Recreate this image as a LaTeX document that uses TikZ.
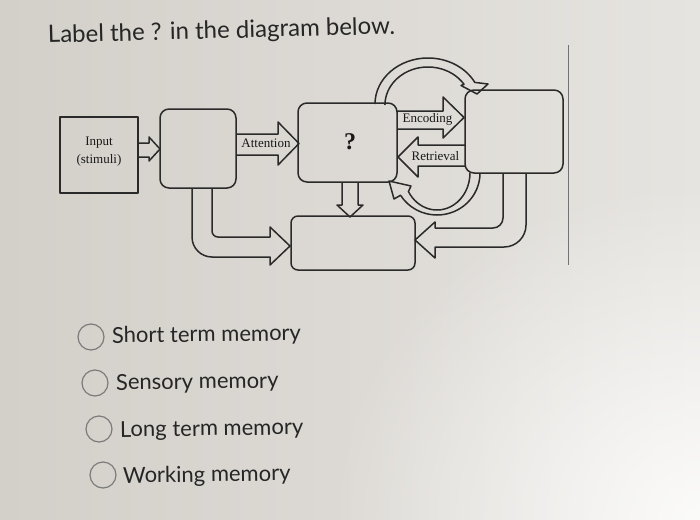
\documentclass[tikz,border=0pt]{standalone}
\usepackage{fontspec}
\setmainfont{Liberation Serif}
\newfontfamily\lato{Lato}
\usetikzlibrary{calc,fadings}
\definecolor{ink}{HTML}{2A2A2A}
\definecolor{bgl}{HTML}{D3CFC9}
\definecolor{bgr}{HTML}{E6E4E0}
\definecolor{radio}{HTML}{7C7C7C}
\tikzfading[name=glow, inner color=transparent!0, outer color=transparent!100]
\tikzset{
  ink/.style={draw=ink, line width=1.5pt, line join=round},
  sqbox/.style={ink, rectangle, inner sep=0pt},
  rbox/.style={ink, rectangle, rounded corners=9pt, inner sep=0pt},
  fat/.style={ink},
  lbl/.style={inner sep=0pt, font=\fontsize{13}{15}\selectfont, text=black!90},
  question/.style={inner sep=0pt, anchor=base west, font=\lato\fontsize{24}{28}\selectfont, text=black!85},
  option/.style={inner sep=0pt, anchor=base west, font=\lato\fontsize{22}{26}\selectfont, text=black!85},
  radiobtn/.style={circle, draw=radio, line width=1.2pt, minimum size=26pt, inner sep=0pt},
}
\begin{document}
\begin{tikzpicture}[x=1pt,y=-1pt]
\useasboundingbox (0,0) rectangle (700,519);
% background
\fill[left color=bgl, right color=bgr] (0,0) rectangle (700,519);
\fill[white, opacity=0.85, path fading=glow] (330,180) rectangle (1070,860);
% screen edge line
\draw[black!55, line width=0.9pt] (568,45) -- (568,265);

% title
\node[question, rotate=1.5] (q) at (48,43) {Label the ? in the diagram below.};

% boxes
\node[sqbox, minimum width=78pt, minimum height=76pt] (input) at (99,155) {};
\node[rbox, minimum width=76pt, minimum height=79pt] (sens) at (198,148.5) {};
\node[rbox, minimum width=99pt, minimum height=79pt] (stm) at (347.5,142.5) {};
\node[rbox, minimum width=98pt, minimum height=83pt] (ltm) at (514,131.5) {};
\node[rbox, rounded corners=7pt, minimum width=124pt, minimum height=54pt] (resp) at (353,243) {};

% box texts
\node[inner sep=0pt, font=\fontsize{13}{18}\selectfont, align=center, text=black!90] (intext) at (99,152) {Input\\(stimuli)};
\node[inner sep=0pt, font=\bfseries\fontsize{24}{24}\selectfont, text=black!90] (qm) at (350,141.5) {?};

% input -> sensory
\draw[fat] (138,143) -- (149,143) -- (149,137) -- (160,149) -- (149,161) -- (149,157) -- (138,157);
% attention
\draw[fat] (236,134) -- (278,134) -- (278,122) -- (299,143.5) -- (278,165) -- (278,155) -- (236,155);
\node[lbl] (att) at (266,143) {Attention};
% encoding
\draw[fat] (397,111) -- (443,111) -- (443,97) -- (464,117.5) -- (443,138) -- (443,129) -- (397,129);
\node[lbl] (enc) at (427.5,119) {Encoding};
% retrieval
\draw[fat] (465,145) -- (418,145) -- (418,137) -- (398,157) -- (418,177) -- (418,166) -- (465,166);
\node[lbl] (ret) at (435.5,156.5) {Retrieval};
% down arrow
\draw[fat] (342,182) -- (342,205) -- (337,205) -- (350,217) -- (363,205) -- (358,205) -- (358,182);
% bent arrow sensory -> bottom box
\draw[fat] (192,188) [rounded corners=20pt] -- (192,257) [sharp corners] -- (270,257) -- (270,265) -- (290,246) -- (270,227) -- (270,237) [rounded corners=6pt] -- (212,237) [sharp corners] -- (212,188);
% bent arrow ltm -> bottom box
\draw[fat] (503,173) [rounded corners=10pt] -- (503,228) [sharp corners] -- (435,228) -- (435,222) -- (415,240) -- (435,258) -- (435,247) [rounded corners=22pt] -- (526,247) [sharp corners] -- (526,173);
% top curved arrow
\draw[fat] (375,104) arc[start angle=180, end angle=28, x radius=53pt, y radius=46pt]
  -- (488,84) -- (477,94) -- (461,85.5) -- (464,84.3)
  arc[start angle=33, end angle=180, x radius=43pt, y radius=38pt];
% bottom curved arrow
\draw[fat] (480,173) arc[start angle=0, end angle=-148, x radius=43pt, y radius=42pt]
  -- (394,199) -- (389,181) -- (411,186) -- (408.4,191.5)
  arc[start angle=-150, end angle=0, x radius=33pt, y radius=37pt];

% answer options
\node[radiobtn] (r1) at (91,337) {};
\node[option, rotate=0.8] (o1) at (112,343) {Short term memory};
\node[radiobtn] (r2) at (95,383) {};
\node[option, rotate=0.8] (o2) at (116,390) {Sensory memory};
\node[radiobtn] (r3) at (99,429) {};
\node[option, rotate=0.8] (o3) at (120,437) {Long term memory};
\node[radiobtn] (r4) at (103,475) {};
\node[option, rotate=0.8] (o4) at (123,483) {Working memory};
\end{tikzpicture}
\end{document}
